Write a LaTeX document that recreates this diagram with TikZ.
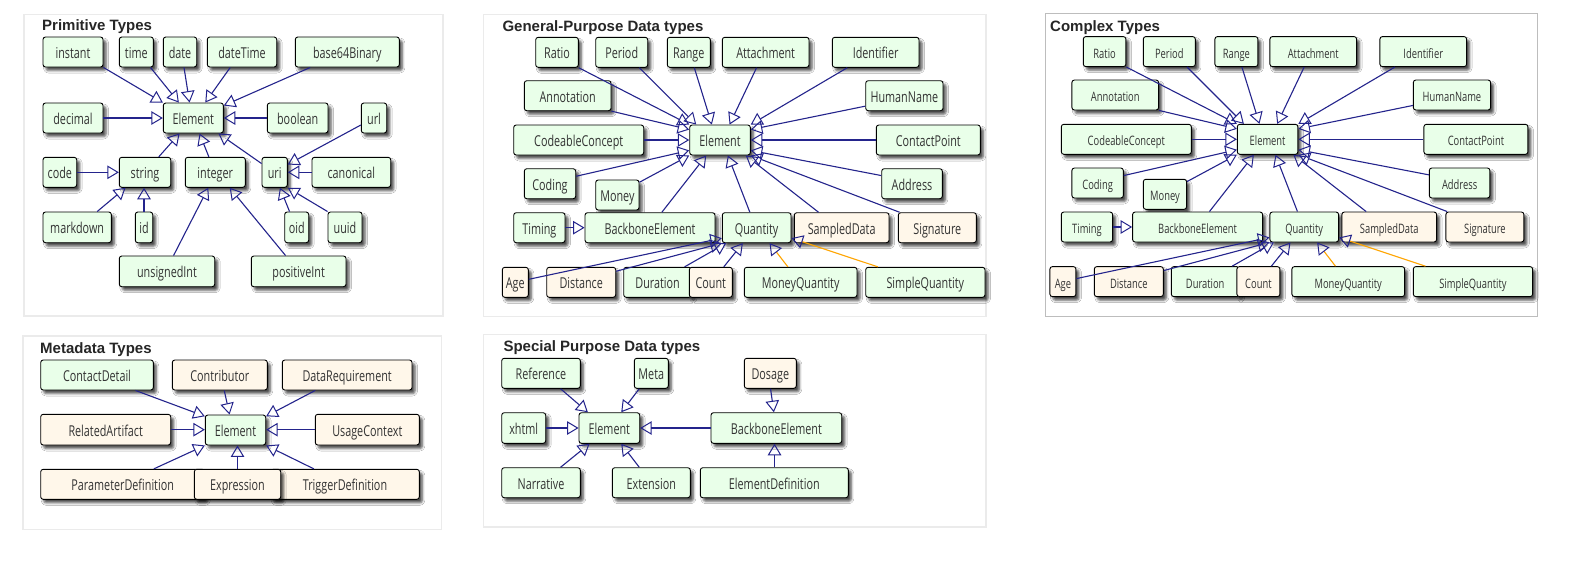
\documentclass[tikz,border=0pt]{standalone}
\usepackage{fontspec}
\newfontfamily\nodefont{Open Sans}[FakeStretch=0.72]
\newfontfamily\titlefont{Liberation Sans}
\usetikzlibrary{arrows.meta,calc,shadows.blur}

\definecolor{boxgreen}{HTML}{E9FFE9}
\definecolor{boxtan}{HTML}{FFF7EA}
\definecolor{boxtext}{HTML}{333333}
\definecolor{edgeblue}{RGB}{36,36,140}
\definecolor{edgeorange}{HTML}{FFA500}
\definecolor{panelline}{HTML}{EBEBEB}
\definecolor{panellinedark}{HTML}{BDBDBD}

\newcommand\nsize{15}

% box given by its corners: style, name, x1, y1, x2, y2, text
\newcommand\bx[7]{\node[#1, minimum width={(#5)-(#3)}, minimum height={(#6)-(#4)}] (#2) at ({((#3)+(#5))/2},{((#4)+(#6))/2}) {#7};}

\tikzset{
  box/.style={draw=black, line width=0.9pt, rounded corners=2.5pt, inner sep=0pt,
    text=boxtext, font=\nodefont\fontsize{\nsize}{\nsize}\selectfont,
    text height=13pt, text depth=0pt,
    blur shadow={shadow xshift=3pt, shadow yshift=-3.5pt, shadow blur radius=2.5pt, shadow opacity=70}},
  gbox/.style={box, fill=boxgreen},
  tbox/.style={box, fill=boxtan},
  inh/.style={draw=edgeblue, line width=1.1pt,
    -{Triangle[open, length=11.5pt, width=13.5pt, line width=1pt]}},
  inho/.style={draw=edgeorange, line width=1.1pt,
    -{Triangle[open, length=11.5pt, width=13.5pt, line width=1pt, color=edgeblue]}},
  panel/.style={draw=panelline, line width=1.6pt},
  ptitle/.style={anchor=base west, inner sep=0pt, text=black!85,
    font=\titlefont\bfseries\fontsize{15}{15}\selectfont},
}

% general-purpose data type hierarchy, node names prefixed by #1
\newcommand\gpTypes[1]{%
  \bx{gbox}{#1Ratio}{535.7}{37.3}{578.3}{67.3}{Ratio}
  \bx{gbox}{#1Period}{595.7}{37.3}{647.7}{67.3}{Period}
  \bx{gbox}{#1Range}{667.3}{37.3}{710.3}{67.3}{Range}
  \bx{gbox}{#1Attachment}{722.3}{37.3}{809}{67.3}{Attachment}
  \bx{gbox}{#1Identifier}{832.3}{37.3}{919}{67.3}{Identifier}
  \bx{gbox}{#1Annotation}{524.3}{80.7}{611}{110.7}{Annotation}
  \bx{gbox}{#1HumanName}{865.7}{80.7}{943}{110.7}{HumanName}
  \bx{gbox}{#1CodeableConcept}{513.7}{125}{643.7}{155}{CodeableConcept}
  \bx{gbox}{#1El}{689.7}{125}{750.3}{155}{Element}
  \bx{gbox}{#1ContactPoint}{876.3}{125}{980.3}{155}{ContactPoint}
  \bx{gbox}{#1Coding}{524.3}{168.7}{575.7}{198.7}{Coding}
  \bx{gbox}{#1Money}{595.7}{180}{639}{210}{Money}
  \bx{gbox}{#1Address}{881.7}{168.7}{942.3}{198.7}{Address}
  \bx{gbox}{#1Timing}{513.7}{212.7}{565}{242.7}{Timing}
  \bx{gbox}{#1BB}{585}{212.7}{715}{242.7}{BackboneElement}
  \bx{gbox}{#1Quantity}{722.3}{212.7}{791}{242.7}{Quantity}
  \bx{tbox}{#1SampledData}{794.3}{212.7}{889}{242.7}{SampledData}
  \bx{tbox}{#1Signature}{898.3}{212.7}{976.3}{242.7}{Signature}
  \bx{tbox}{#1Age}{502.3}{267.3}{528.3}{297.3}{Age}
  \bx{tbox}{#1Distance}{546.7}{267.3}{615.7}{297.3}{Distance}
  \bx{gbox}{#1Duration}{623.7}{267.3}{691.5}{297.3}{Duration}
  \bx{tbox}{#1Count}{689.3}{267.3}{732.3}{297.3}{Count}
  \bx{gbox}{#1MoneyQuantity}{744.3}{267.3}{857}{297.3}{MoneyQuantity}
  \bx{gbox}{#1SimpleQuantity}{865.7}{267.3}{985}{297.3}{SimpleQuantity}
  \draw[inh] (#1Ratio.south east) -- (#1El.north west);
  \draw[inh] ($(#1Period.south east)+(-8.7,0)$) -- ($(#1El.north west)+(7,0)$);
  \draw[inh] ($(#1Range.south)+(5.5,0)$) -- ($(#1El.north west)+(22.6,0)$);
  \draw[inh] ($(#1Attachment.south west)+(34.7,0)$) -- ($(#1El.north west)+(40.3,0)$);
  \draw[inh] ($(#1Identifier.south west)+(15.4,0)$) -- (#1El.north east);
  \draw[inh] (#1Annotation.south east) -- ($(#1El.north west)+(0,5)$);
  \draw[inh] ($(#1HumanName.south west)+(0,-5)$) -- ($(#1El.north east)+(0,5)$);
  \draw[inh] (#1CodeableConcept.east) -- (#1El.west);
  \draw[inh] (#1ContactPoint.west) -- (#1El.east);
  \draw[inh] ($(#1Coding.north east)+(0,8)$) -- ($(#1El.south west)+(0,-5)$);
  \draw[inh] ($(#1Money.north east)+(0,2.7)$) -- (#1El.south west);
  \draw[inh] ($(#1Address.north west)+(0,7.3)$) -- ($(#1El.south east)+(0,-5)$);
  \draw[inh] ($(#1BB.north west)+(77.3,0)$) -- ($(#1El.south west)+(17,0)$);
  \draw[inh] ($(#1Quantity.north west)+(28,0)$) -- ($(#1El.south west)+(38.6,0)$);
  \draw[inh] ($(#1SampledData.north west)+(24.7,0)$) -- ($(#1El.south east)+(-5,0)$);
  \draw[inh] ($(#1Signature.north west)+(1.7,0)$) -- (#1El.south east);
  \draw[inh] (#1Timing.east) -- (#1BB.west);
  \draw[inh] ($(#1Age.east)+(0,-3)$) -- ($(#1Quantity.south west)+(0,-5)$);
  \draw[inh] ($(#1Distance.north east)+(0,4.4)$) -- (#1Quantity.south west);
  \draw[inh] ($(#1Duration.north west)+(61.3,0)$) -- ($(#1Quantity.south west)+(4.4,0)$);
  \draw[inh] ($(#1Count.north east)+(-9,0)$) -- ($(#1Quantity.south west)+(21,0)$);
  \draw[inho] ($(#1MoneyQuantity.north west)+(44,0)$) -- ($(#1Quantity.south west)+(47.7,0)$);
  \draw[inho] ($(#1SimpleQuantity.north west)+(12.6,0)$) -- ($(#1Quantity.south east)+(0,-5)$);
}

\begin{document}
\begin{tikzpicture}[x=1pt, y=-1pt]
  \fill[white] (0,0) rectangle (1586,582);
  \useasboundingbox (0,0) rectangle (1586,582);

  % panel frames and headings
  \draw[panel] (24,14.3) rectangle (443,316);
  \draw[panel] (483.3,14.3) rectangle (986,316.5);
  \draw[draw=panellinedark, line width=1pt] (1045.5,13.3) rectangle (1537.3,316.5);
  \draw[panel] (22.7,336) rectangle (441.5,529.3);
  \draw[panel] (483.3,334.5) rectangle (986,527);
  \node[ptitle] (tPrim) at (42,30.7) {Primitive Types};
  \node[ptitle] (tGen) at (502.3,31) {General-Purpose Data types};
  \node[ptitle] (tCplx) at (1050,31) {Complex Types};
  \node[ptitle] (tMeta) at (40,353.7) {Metadata Types};
  \node[ptitle] (tSpec) at (503.3,351.7) {Special Purpose Data types};

  % primitive types
  \bx{gbox}{instant}{43}{37}{103}{67}{instant}
  \bx{gbox}{time}{119.3}{37}{153.3}{67}{time}
  \bx{gbox}{date}{163.3}{37}{196.7}{67}{date}
  \bx{gbox}{dateTime}{207.3}{37}{276.7}{67}{dateTime}
  \bx{gbox}{b64}{295.3}{37}{399.3}{67}{base64Binary}
  \bx{gbox}{decimal}{43}{103}{103}{133}{decimal}
  \bx{gbox}{pEl}{163.3}{103}{223.3}{133}{Element}
  \bx{gbox}{boolean}{267.3}{103}{328}{133}{boolean}
  \bx{gbox}{url}{361.3}{103}{386.7}{133}{url}
  \bx{gbox}{code}{43}{157.3}{76.7}{187.3}{code}
  \bx{gbox}{string}{119.3}{157.3}{170.7}{187.3}{string}
  \bx{gbox}{integer}{185.3}{157.3}{245.3}{187.3}{integer}
  \bx{gbox}{uri}{262}{157.3}{287.3}{187.3}{uri}
  \bx{gbox}{canonical}{312}{157.3}{390.7}{187.3}{canonical}
  \bx{gbox}{markdown}{43}{212}{111.3}{242.7}{markdown}
  \bx{gbox}{id}{135.3}{212}{152.7}{242.7}{id}
  \bx{gbox}{oid}{284.7}{212}{308.7}{242.7}{oid}
  \bx{gbox}{uuid}{328}{212}{362}{242.7}{uuid}
  \bx{gbox}{unsignedInt}{119.3}{256}{214.7}{286.7}{unsignedInt}
  \bx{gbox}{positiveInt}{251.3}{256}{346}{286.7}{positiveInt}
  \draw[inh] (instant.south east) -- (pEl.north west);
  \draw[inh] ($(time.south east)+(-3.3,0)$) -- ($(pEl.north west)+(16,0)$);
  \draw[inh] ($(date.south)+(4,0)$) -- ($(pEl.north west)+(26.7,0)$);
  \draw[inh] ($(dateTime.south west)+(23.4,0)$) -- ($(pEl.north)+(12,0)$);
  \draw[inh] ($(b64.south west)+(15.4,0)$) -- ($(pEl.north east)+(0,3)$);
  \draw[inh] (decimal.east) -- (pEl.west);
  \draw[inh] (boolean.west) -- (pEl.east);
  \draw[inh] ($(string.north east)+(-12.4,0)$) -- ($(pEl.south west)+(16.7,0)$);
  \draw[inh] ($(integer.north west)+(24,0)$) -- ($(pEl.south west)+(36.7,0)$);
  \draw[inh] ($(uri.north west)+(0,6.7)$) -- ($(pEl.south east)+(-5.3,0)$);
  \draw[inh] ($(url.west)+(0,7)$) -- ($(uri.north east)+(0,7.7)$);
  \draw[inh] (canonical.west) -- (uri.east);
  \draw[inh] ($(oid.north west)+(5.3,0)$) -- ($(uri.south)+(5.3,0)$);
  \draw[inh] (uuid.north west) -- (uri.south east);
  \draw[inh] (code.east) -- (string.west);
  \draw[inh] ($(markdown.north east)+(-14.6,0)$) -- ($(string.south west)+(6.7,0)$);
  \draw[inh] (id.north) -- (id.north |- string.south);
  \draw[inh] ($(unsignedInt.north west)+(54.7,0)$) -- ($(integer.south west)+(23.4,0)$);
  \draw[inh] ($(positiveInt.north west)+(34.7,0)$) -- ($(integer.south east)+(-16,0)$);

  % general-purpose data types
  \gpTypes{g}

  % complex types: same hierarchy, smaller lettering
  \begin{scope}[shift={(547.6,-0.7)}]
    \renewcommand\nsize{13}
    \gpTypes{c}
  \end{scope}

  % metadata types
  \bx{gbox}{ContactDetail}{40.7}{360}{153.3}{390}{ContactDetail}
  \bx{tbox}{Contributor}{172.3}{360}{267.3}{390}{Contributor}
  \bx{tbox}{DataRequirement}{282.3}{360}{412}{390}{DataRequirement}
  \bx{tbox}{RelatedArtifact}{40.7}{414.3}{170.7}{445}{RelatedArtifact}
  \bx{gbox}{mEl}{205.3}{415}{265.7}{445}{Element}
  \bx{tbox}{UsageContext}{315.3}{414.3}{419.3}{445}{UsageContext}
  \bx{tbox}{ParameterDefinition}{40.7}{469.3}{204.7}{499.3}{ParameterDefinition}
  \bx{tbox}{TriggerDefinition}{270.7}{469.3}{419.3}{499.3}{TriggerDefinition}
  \bx{tbox}{Expression}{194.3}{469.3}{280.7}{499.3}{Expression}
  \draw[inh] ($(ContactDetail.south east)+(-18.3,0)$) -- ($(mEl.north west)+(0,1.7)$);
  \draw[inh] ($(Contributor.south west)+(52.4,0)$) -- ($(mEl.north west)+(24.7,0)$);
  \draw[inh] ($(DataRequirement.south west)+(33.4,0)$) -- ($(mEl.north east)+(0,1.7)$);
  \draw[inh] (RelatedArtifact.east) -- (RelatedArtifact.east -| mEl.west);
  \draw[inh] (UsageContext.west) -- (UsageContext.west -| mEl.east);
  \draw[inh] ($(ParameterDefinition.north west)+(113.6,0)$) -- (mEl.south west);
  \draw[inh] (Expression.north) -- (Expression.north |- mEl.south);
  \draw[inh] ($(TriggerDefinition.north west)+(43.6,0)$) -- (mEl.south east);

  % special purpose data types
  \bx{gbox}{Reference}{501.7}{358.3}{580.3}{388.3}{Reference}
  \bx{gbox}{Meta}{634.3}{358.3}{668.3}{388.3}{Meta}
  \bx{tbox}{Dosage}{744.3}{358.3}{796.3}{388.3}{Dosage}
  \bx{gbox}{xhtml}{501.7}{412.7}{545.7}{443.3}{xhtml}
  \bx{gbox}{sEl}{579}{412.7}{639.7}{443.3}{Element}
  \bx{gbox}{sBB}{711}{412.7}{841.7}{443.3}{BackboneElement}
  \bx{gbox}{Narrative}{501.7}{467.7}{580.3}{497.7}{Narrative}
  \bx{gbox}{Extension}{612.3}{467.7}{690.3}{497.7}{Extension}
  \bx{gbox}{ElementDefinition}{700.3}{467.7}{848.3}{497.7}{ElementDefinition}
  \draw[inh] ($(Reference.south west)+(59.3,0)$) -- ($(sEl.north west)+(9.3,0)$);
  \draw[inh] ($(Meta.south west)+(5.4,0)$) -- ($(sEl.north west)+(42.7,0)$);
  \draw[inh] (xhtml.east) -- (xhtml.east -| sEl.west);
  \draw[inh] (sBB.west) -- (sBB.west -| sEl.east);
  \draw[inh] ($(Narrative.north west)+(59.3,0)$) -- ($(sEl.south west)+(11,0)$);
  \draw[inh] ($(Extension.north west)+(27.4,0)$) -- ($(sEl.south west)+(42.7,0)$);
  \draw[inh] ($(Dosage.south west)+(26.7,0)$) -- ($(sBB.north west)+(63.3,0)$);
  \draw[inh] ($(ElementDefinition.north west)+(74.7,0)$) -- ($(sBB.south west)+(64,0)$);
\end{tikzpicture}
\end{document}
